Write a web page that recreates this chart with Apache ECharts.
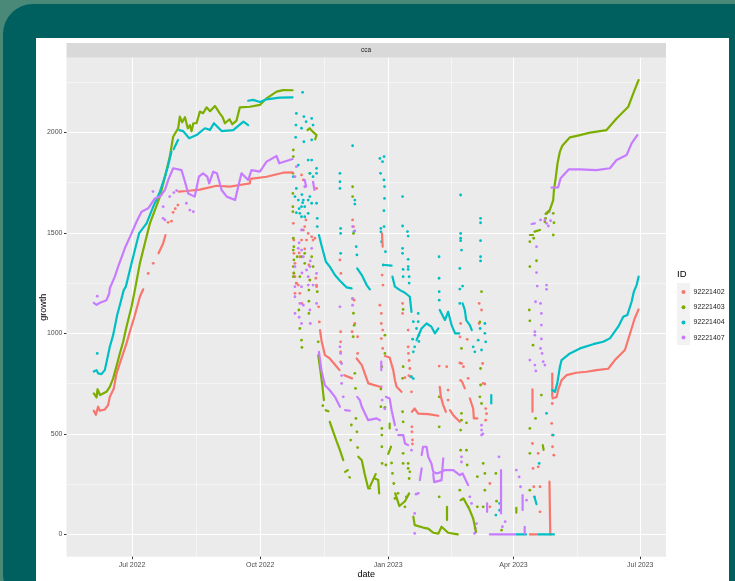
<!DOCTYPE html>
<html><head><meta charset="utf-8">
<style>html,body{margin:0;padding:0;background:#4a8878}#c{width:735px;height:581px}</style>
<script src="https://cdn.jsdelivr.net/npm/echarts@6/dist/echarts.min.js"></script>
</head><body><div id="c"></div>
<script>
// x values are days counted from 1 Jul 2022; y values are growth.
const panelTitle = 'cca';
const xTickDays = [0, 92, 184, 274, 365];
const xTickLabels = ['Jul 2022', 'Oct 2022', 'Jan 2023', 'Apr 2023', 'Jul 2023'];
const xMinorDays = [46, 138, 229, 320];
const yTicks = [0, 500, 1000, 1500, 2000];
const yMinor = [250, 750, 1250, 1750, 2250];
const ids = ['92221402', '92221403', '92221404', '92221407'];
const colors = ['#F8766D', '#7CAE00', '#00BFC4', '#C77CFF'];

const curves402 = [
 [[-27.5,615],[-26,595],[-24.4,635],[-23.2,615],[-19.6,621],[-17.2,643],[-16,684],[-13.1,726],[-11.2,800],[-7.6,875],[-4,950],[-1.6,1008],[2,1090],[5.6,1182],[8,1219]],
 [[19,1398],[22.3,1447],[24,1489]],
 [[33.6,1705],[39.1,1708],[48.7,1715],[60.7,1734],[70.2,1730],[77.4,1738],[84.6,1746],[85,1768],[96.6,1779],[108.5,1799],[115.3,1801]],
 [[135,1016],[136,966],[138.5,892],[142,875],[147,834],[149,817]],
 [[152.4,792],[158,776]],
 [[161.3,875],[165,842],[169.7,751],[178,734]],
 [[179.5,1497],[180,1431]],
 [[181.6,887],[185,880],[187.6,817],[188.8,767],[190,734],[193.5,709]],
 [[201,610],[203,626],[205.5,601],[212.7,598],[220,590]],
 [[221,734],[221.8,684],[223.5,643],[225.4,610]],
 [[228.3,618],[230.7,593],[235.4,560]],
 [[239,726],[237,760]],
 [[242.6,676],[245,626],[245.5,577],[248,577]],
 [[287.6,721],[287.6,610]],
 [[299.8,262],[300,170],[300.2,71],[300.4,0]],
 [[301.8,800],[301.8,685]],
 [[285.7,0],[290.5,0]],
 [[302,676],[305,684],[306,718],[308.5,767],[312,792],[319,804],[326.5,809],[333.6,817],[342,824],[346.8,867],[354,917],[358.8,1024],[361,1074],[363.8,1119]]
];
const dots402 = [[11.6,1298],[15.2,1348],[25.9,1552],[28.3,1558],[29.5,1602],[31,1620],[32.9,1638],
 [115.8,1547],[117,1348],[117,1282],[119.4,1240],[121.7,1788],[123,1763],[124,1531],[121.7,1464],[125.3,1464],[129,1481],[131.3,1473],[132.5,1721],[132,1274],[132.5,1232],
 [117,1199],[120.5,1199],[122,1149],[134,1132],[134.5,1057],[118,1250],[127,1340],[120,1400],[124,1420],
 [116.2,1464],[116.2,1398],[116.2,1298],[118,1249],[120.5,1381],[123,1514],[124.9,1564],[126.5,1497],[127.7,1265],[130,1464],[132.5,1240],
 [149.8,1008],[149.8,958],[149.8,908],[149.8,858],[149.3,1365],[150,1298],[158.4,1564],[159,1531],[159.5,1165],[160,1049],[162,983],[158,1008],[162,900],
 [178,1140],[179,1099],[179,1049],[180,1016],[179,974],[180,925],[179.6,1290],[180.2,1240],
 [194.3,1149],[194.3,1099],[196,780],[198.8,790],[198.3,1016],[198.3,933],[198.5,900],[199,865],[199.5,825],[200,784],[200.7,709],[201,535],[201,510],[201.4,470],[201.4,450],
 [220.6,837],[226,834],[227,718],[227,668],[236,1049],[235.5,982],[235.4,853],[236.6,850],[238,834],[236,766],[241.4,776],[240.7,970],[249.3,1149],[249.3,1049],[251,1116],[251.8,850],[252.2,751],[253.4,748],[254,626],[254,568],[254.6,600],
 [257,253],[257,137],[287.6,452],[291.7,403],[291.7,336],[288,328],[288.5,237],[289,187],[293,112],[293,237],[301.8,651],[301.4,552],[301.8,494],[302,436],[302.9,394]];

const curves403 = [
 [[-27.5,701],[-25.5,681],[-24.8,722],[-23,693],[-18.4,709],[-16,734],[-13.6,776],[-11,842],[-8.8,900],[-6.4,958],[-4,1033],[-0.4,1132],[2,1215],[5.6,1348],[9.2,1448],[12.8,1547],[16.4,1613],[20,1680],[23.6,1779],[27.1,1879],[29.5,1978],[33.1,2020],[34.3,2078],[36,2050],[38,2075],[40,2020],[41.5,2035],[42.7,2005],[44,2045],[46.3,2045],[48.7,2103],[51,2095],[53.5,2124],[56,2105],[59.5,2131],[63,2094],[65,2075],[66.7,2045],[70,2065],[72,2040],[75,2058],[77.4,2124],[84.6,2127],[91.8,2136],[96.6,2169],[103.8,2202],[108.5,2210],[115.3,2209]],
 [[126,2011],[127.5,2020],[129.5,2005],[132.5,1986],[131.5,1965]],
 [[133.7,892],[135.4,809],[136.8,734],[137.8,668]],
 [[139,618],[141,612]],
 [[142,560],[144.5,510],[147,461],[149.3,419],[151.7,369]],
 [[153,311],[155,320]],
 [[156,285],[156.5,283]],
 [[162.5,386],[165,369],[167,303],[169.6,229],[171,229]],
 [[174.4,278],[176.8,270],[177.5,204]],
 [[175,300],[171,240]],
 [[185,551],[185,527]],
 [[186,436],[184,400]],
 [[189,204],[192,141],[196,165],[199,204]],
 [[202,88],[203,46],[209,34],[212.7,29],[216.5,8],[220,4],[222.3,38],[223.5,29],[227,8],[234,0]],
 [[226.2,137],[226.2,71]],
 [[236,170],[238,179],[242,129],[245,79],[247,13]],
 [[285.7,1489],[288,1489]],
 [[289,1506],[293,1514]],
 [[297,1594],[300,1613],[302.5,1663],[303,1713],[304.4,1779],[305.6,1846],[307.3,1904],[309,1933],[314.5,1975],[321.7,1986],[329,1998],[340.8,2011],[348,2069],[356.4,2127],[360,2194],[363.8,2260]],
 [[276,132],[276,108]],
 [[295,444],[295.6,420]]
];
const dots403 = [[115.8,1912],[115.8,1879],[115.5,1796],[115.5,1696],[115.5,1630],[115.5,1605],[115.8,1473],[115.8,1414],[115.8,1332],[115.8,1282],[121.7,1381],[124,1398],[129,1381],[127.7,1796],
 [116.2,1431],[116.2,1365],[116.2,1300],[118.6,1381],[120.5,1282],[124,1348],[127.7,1265],[130,1332],
 [119.8,1116],[120.5,1024],[121.7,966],[122,930],[127,1215],[127,1160],[127,1099],[133,1207],[133.7,958],[137,640],
 [157.5,544],[157,469],[160.8,577],[161.5,510],[162,432],[158.4,1173],[159,1100],[159.5,1040],[158.8,983],[160,801],[160.5,726],[158.4,1680],[158.4,1729],[159,1497],
 [181.6,991],[181.6,900],[179.4,834],[178.7,723],[178.7,635],[181.6,632],[179.4,527],[179.4,494],[179.4,436],[179.6,353],[182.3,345],
 [186.4,355],[187,303],[188,253],[194.7,1119],[194.7,834],[194.3,776],[194.3,610],[194.7,560],[194.7,403],[198.3,353],[199,278],
 [188.8,179],[191,204],[197,187],[196,137],[199.5,311],[198.3,328],[194.7,353],
 [220.6,187],[220.6,684],[220.6,535],[236.6,602],[236.6,568],[236,519],[240.2,555],[236.6,925],[236,419],[240.2,419],[240.7,345],[235.4,220],
 [250.3,825],[250.3,743],[249.8,684],[251,1207],[249.8,1057],[251,651],[252.2,353],[253.4,303],[253.4,220],[252.2,137],[248,287],[248,137],
 [261.8,165],[261.3,303],[265.4,21],[285.7,220],[285.7,403],[285.7,527],[285.3,1116],[285.7,1062],[288,941],[289.8,577],[294,693],
 [285.7,1456],[288.5,1473],[290.5,1361],[285.7,1332],[296.5,1555],[297,1572],[302.5,1597],[303,1550],[302.5,1489],[298,1597]];

const curves404 = [
 [[-27.5,810],[-25.5,817],[-24.4,801],[-22,797],[-19.6,817],[-18,867],[-16,933],[-13.6,991],[-11.9,1049],[-10.7,1091],[-8.8,1140],[-6,1215],[-4.5,1232],[-0.4,1348],[2,1414],[5,1497],[10.4,1547],[14.7,1622],[20,1705],[23.6,1779],[26,1837],[28.3,1904]],
 [[29.8,1915],[33,1962]],
 [[33.9,2011],[36.7,2006],[41,1970],[46.3,1986],[52.3,2020],[56,2012],[58.8,2045],[64.3,2006],[72.6,2011],[80,2053],[83.4,2036]],
 [[83.4,2157],[87,2161],[91.8,2151],[96.6,2164],[106,2172],[115.3,2174]],
 [[134.2,1489],[136,1439],[139.2,1356],[142,1332],[145.7,1290],[149.3,1262],[154,1229],[157.7,1224]],
 [[161.7,1323],[165,1290],[168.5,1240],[170.8,1219]],
 [[181.5,1340],[186.4,1337]],
 [[187,1282],[188.8,1232],[192.4,1215],[196,1202],[199.5,1182],[200.7,1107]],
 [[204.3,966],[207.9,1024],[211.5,1049],[215,1033],[217.5,1000],[220,1024]],
 [[221,1116],[224.7,1066],[227,1107],[229.5,1041],[232,1000],[235,1000]],
 [[237.4,1149],[239,1116],[240,1066],[242.6,1041],[244,1016]],
 [[258,693],[258,651]],
 [[276,0],[283,0]],
 [[291.7,0],[303,0]],
 [[289,187],[290.5,150]],
 [[301.8,718],[303.7,709],[305.4,751],[307.3,834],[308.5,867],[314.5,900],[321.7,925],[331.2,946],[338.4,958],[343.2,975],[349.2,1033],[352.8,1082],[355.7,1091],[358.8,1157],[360.4,1207],[362.4,1240],[363.8,1282]]
];
const dots404 = [[-25,900],[122.5,2199],[118,2094],[117.7,2036],[117.5,1975],[123.4,2078],[125,2053],[129,2069],[130,2036],[121.7,2020],[123.4,1953],[129,1962],[119.4,1837],[115.8,1779],[126.5,1862],[129,1862],[132.5,1821],[132.5,1796],[127.7,1796],[117,1680],[119.4,1663],[121.7,1630],[123,1663],[121.7,1580],[124,1580],[126.5,1663],[129,1647],[126.5,1597],[132.5,1647],[133,1572],[133,1531],[118,1600],[120,1620],[122,1690],
 [118,1721],[120.5,1597],[124,1630],[127.7,1680],[130,1779],[122.5,1650],
 [149.3,1796],[149.3,1754],[149.3,1721],[149.8,1522],[149.8,1497],[149.8,1398],[158.4,1933],[160,1663],[160,1643],[159.4,1506],[161,1431],[161.5,1390],
 [178,1870],[181,1879],[179.9,1854],[178.5,1796],[180.9,1763],[181.3,1730],[181.3,1671],[180.9,1610],[178.7,1522],[181,1531],[178.7,1505],[179.2,1456],[182,1406],[180.4,1340],
 [194.3,1680],[194.3,1534],[197.8,1506],[198.3,1484],[194.3,1423],[194.3,1398],[198.3,1368],[194.7,1318],[198.3,1332],[198.3,1318],[194.7,1282],[199,1282],[199,1250],
 [200.7,784],[202,775],[202,908],[203,933],[201.5,971],[202,1058],[205.5,1099],[205.5,1058],[204.3,1024],[206,991],[206,960],[220.5,1381],[220.5,1274],[220.6,1207],[220.6,1165],
 [236,1688],[236,1497],[236,1473],[236,1461],[236.6,1414],[235.4,1323],[237.4,1235],[235.4,1220],[235.4,1149],
 [245,933],[246.2,908],[248.6,966],[250,1024],[251,917],[253.4,1049],[253.4,1000],[254,958],[250.3,1572],[250.3,1550],[250.3,1461],[250.3,1381],[250.3,1360],
 [297.7,602],[302.5,494],[292.4,353],[261.3,96],[264,154],[264,120]];

const curves407 = [
 [[-27.5,1152],[-25.5,1142],[-23,1152],[-18.4,1165],[-16.4,1198],[-16,1224],[-12.4,1282],[-10,1332],[-5.2,1423],[-0.4,1497],[3.2,1555],[6.8,1605],[11.6,1622],[16.4,1671],[20,1680],[23.6,1713],[26,1763],[29.5,1821],[35.5,1812],[38,1754],[40.3,1696],[45,1680],[48,1779],[51,1796],[54,1780],[55.4,1746],[58.3,1804],[61,1796],[64.3,1713],[68,1680],[74,1663],[76.2,1729],[78.6,1796],[83.4,1763],[85.8,1812],[91.8,1804],[96.6,1854],[103.8,1882],[105.7,1846],[115.3,1867]],
 [[124,1763],[125,1730]],
 [[130,1754],[131,1713]],
 [[134.2,908],[136,817],[138.5,742],[142,717],[145.7,684],[149.3,635]],
 [[153,618],[156.5,615]],
 [[161.7,684],[163.6,668],[165,635],[169.6,568],[171,577],[175.6,577],[178,568]],
 [[179,859],[179,817]],
 [[182.3,684],[185,676],[186.4,618],[188.8,543]],
 [[191.2,494],[194.8,494],[196,452],[198.3,444]],
 [[208,394],[209,436],[211.5,436],[212.7,386],[215,353],[216.3,311],[218.7,303],[222.3,311],[224.7,320],[230.7,320],[235.4,295],[237.4,303],[241.4,245]],
 [[206.7,270],[208,328]],
 [[216.3,300],[217,260],[222.3,270],[223.5,378]],
 [[255,154],[255,112]],
 [[265,320],[265,104]],
 [[280.5,195],[280.5,121]],
 [[257,0],[275,0]],
 [[282,38],[282,5]],
 [[287,1544],[289.3,1547]],
 [[301.3,1725],[306,1726],[307.8,1771],[313.8,1816],[321.7,1816],[333.6,1812],[343.2,1821],[348,1862],[355.2,1887],[358.8,1945],[362.9,1986]]
];
const dots407 = [[-25,1185],[15,1705],[22.3,1630],[23.6,1564],[27,1680],[22.3,1572],[39,1647],[41.5,1613],[44,1605],[32,1710],[30,1700],[18,1660],[21,1690],
 [117,1779],[118,1829],[121.7,1514],[129,1423],[121.7,1414],[126.5,1282],[117,1232],[121.7,1232],[126.5,1240],[122,1300],[128,1360],[120,1450],[117,1182],[117,1099],[120.5,1149],[121.7,1049],[123,1140],[127.7,1116],[128,1049],[132.5,1149],[120,1080],
 [117,1332],[119.4,1423],[123,1381],[125.3,1315],[127.7,1332],[130,1240],[132.5,1298],[124,1729],
 [149.3,933],[149.8,900],[150.5,850],[150.5,751],[151.7,684],[149.3,1132],[158.4,1173],[158.4,1140],[158.4,1531],[160,1510],[150.5,790],
 [179,734],[179.6,668],[181.5,625],[190,520],
 [200.7,419],[203,104],[203,5],[205.5,204],[204,200],[241.4,137],[243.8,154],[242.6,187],[246,5],[247.4,54],[246.5,30],
 [251,543],[251,519],[251,494],[252,500],[236.6,386],[236.6,360],[247,13],[263.5,386],[266,38],[268,63],[276,320],[278,286],[279,237],[283.3,170],
 [289.8,1157],[293.4,1149],[294,1099],[294,1041],[289.3,1008],[289.3,991],[294,972],[295.3,859],[296.5,842],[290,813],[289.3,842],[285.7,867],[293.4,925],[294.5,900],
 [293.4,1564],[297.7,1547],[299,1534],[296.5,1564],[300.6,1560],[299.6,1605],[290.5,1431],[290.5,1302],[291,1235],[297.7,1240],[297.7,1219]];

const curveSets = [curves402, curves403, curves404, curves407];
const dotSets = [dots402, dots403, dots404, dots407];

const series = [];
ids.forEach((id, i) => {
  curveSets[i].forEach(seg => series.push({
    type: 'line', name: id, data: seg, silent: true, animation: false,
    showSymbol: false, lineStyle: { color: colors[i], width: 2.2, cap: 'round', join: 'round' },
    itemStyle: { color: colors[i] }
  }));
  series.push({
    type: 'scatter', name: id, data: dotSets[i], silent: true, animation: false,
    symbolSize: 2.8, itemStyle: { color: colors[i], opacity: 1 }
  });
});

const minVal = -111, maxVal = 2371;
const xMin = -47.1, xMax = 383.5;
const font = '"Liberation Sans", Arial, sans-serif';
const chart = echarts.init(document.getElementById('c'), null, { renderer: 'canvas' });
chart.setOption({
  animation: false,
  backgroundColor: 'transparent',
  graphic: [
    { type: 'rect', z: -10, shape: { x: 3, y: 4, width: 760, height: 600, r: 30 }, style: { fill: '#005F5F' } },
    { type: 'rect', z: -9, shape: { x: 36, y: 38, width: 693, height: 543 }, style: { fill: '#FFFFFF' } },
    { type: 'rect', z: -8, shape: { x: 66.5, y: 43, width: 599.5, height: 14.7 }, style: { fill: '#D9D9D9' } },
    { type: 'text', z: 5, style: { x: 366, y: 50.5, text: panelTitle, fill: '#1A1A1A', font: '6.5px ' + font, align: 'center', verticalAlign: 'middle' } },
    { type: 'rect', z: -8, shape: { x: 677, y: 283, width: 13, height: 62 }, style: { fill: '#F2F2F2' } },
    { type: 'text', z: 5, style: { x: 677, y: 274, text: 'ID', fill: '#000', font: '9.5px ' + font, align: 'left', verticalAlign: 'middle' } }
  ],
  grid: { left: 66.5, right: 69, top: 57.7, bottom: 24.3, containLabel: false, outerBoundsMode: 'none', show: true, backgroundColor: '#EBEBEB', borderWidth: 0 },
  legend: {
    data: ids, orient: 'vertical', left: 681.5, top: 288.5, padding: 0, itemGap: 8.2,
    itemWidth: 4, itemHeight: 7, icon: 'circle', selectedMode: false,
    textStyle: { fontFamily: font, fontSize: 7, color: '#222', padding: [0, 0, 0, 3] }
  },
  xAxis: [
    {
      type: 'value', min: xMin, max: xMax, name: 'date', nameLocation: 'middle', nameGap: 13,
      nameMoveOverlap: false,
      nameTextStyle: { fontFamily: font, fontSize: 9, color: '#000' },
      axisLine: { show: false, onZero: false },
      axisTick: { show: true, length: 2.5, customValues: xTickDays, lineStyle: { color: '#333' } },
      axisLabel: {
        customValues: xTickDays, margin: 5,
        fontFamily: font, fontSize: 7, color: '#4D4D4D',
        formatter: v => xTickLabels[xTickDays.indexOf(+v)] || ''
      },
      splitLine: { show: true, lineStyle: { color: '#FFFFFF', width: 1 } }
    },
    {
      type: 'value', min: xMin, max: xMax, position: 'bottom', axisLine: { show: false, onZero: false },
      axisTick: { show: false, customValues: xMinorDays },
      axisLabel: { show: false, customValues: xMinorDays },
      splitLine: { show: true, lineStyle: { color: '#FFFFFF', width: 0.5 } }
    }
  ],
  yAxis: [
    {
      type: 'value', min: minVal, max: maxVal, name: 'growth', nameLocation: 'middle', nameGap: 18,
      nameMoveOverlap: false,
      nameTextStyle: { fontFamily: font, fontSize: 9, color: '#000' },
      axisLine: { show: false, onZero: false },
      axisTick: { show: true, length: 2.5, customValues: yTicks, lineStyle: { color: '#333' } },
      axisLabel: { customValues: yTicks, margin: 4, fontFamily: font, fontSize: 7, color: '#4D4D4D', formatter: v => String(v) },
      splitLine: { show: true, lineStyle: { color: '#FFFFFF', width: 1 } }
    },
    {
      type: 'value', min: minVal, max: maxVal, position: 'left', axisLine: { show: false, onZero: false },
      axisTick: { show: false, customValues: yMinor },
      axisLabel: { show: false, customValues: yMinor },
      splitLine: { show: true, lineStyle: { color: '#FFFFFF', width: 0.5 } }
    }
  ],
  series
});
</script></body></html>
